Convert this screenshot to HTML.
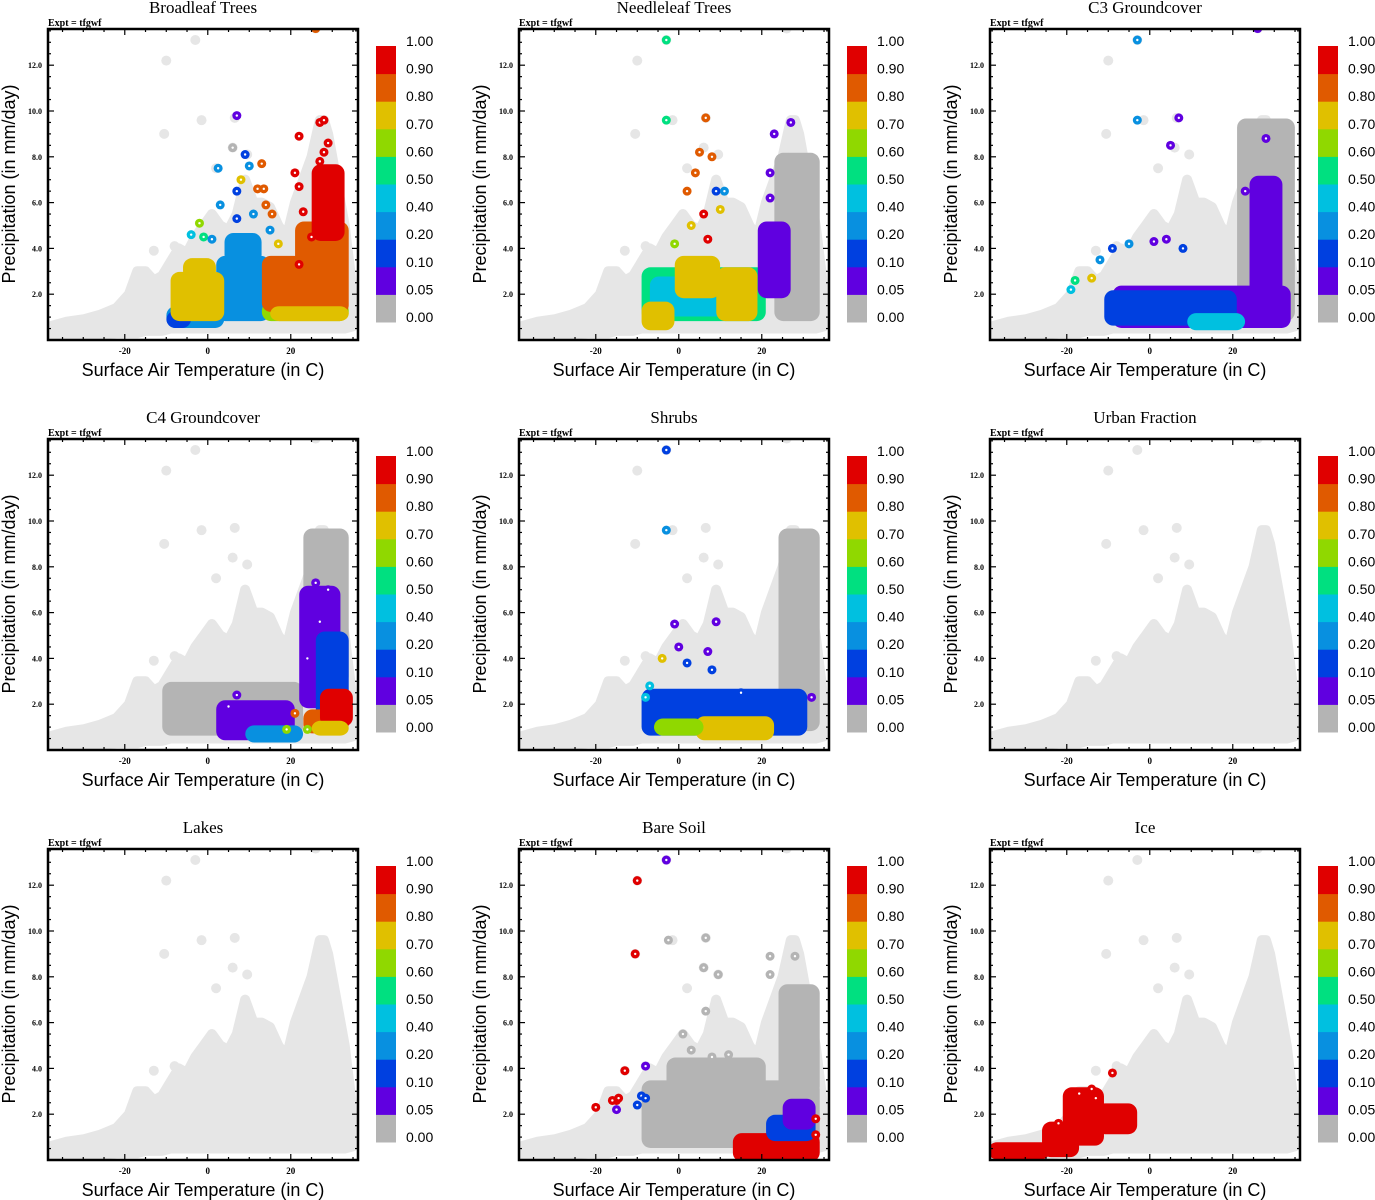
<!DOCTYPE html>
<html><head><meta charset="utf-8"><style>
body{margin:0;background:#fff;}
svg{display:block;}
</style></head><body>
<svg id="chart" width="1375" height="1200" viewBox="0 0 1375 1200" xmlns="http://www.w3.org/2000/svg"></svg>
<script>
// Shared background cloud (all grid cells)
const bgT  = [-38,-34,-30,-26,-22,-19,-17,-15,-13,-11,-9,-7,-5,-3,-1,1,3,5,7,9,11,13,15,17,19,21,23,25,27,28,29,31,33,35];
const bgHi = [0.6,0.8,0.9,1.1,1.4,2.0,3.0,3.0,2.6,2.8,3.4,4.0,3.8,4.5,5.0,5.5,5.0,4.8,5.5,7.0,6.0,6.0,5.8,5.0,4.5,6.0,7.0,8.0,9.6,9.6,9.0,7.0,5.0,2.0];
const bgLo = [0.2,0.2,0.2,0.2,0.3,0.3,0.3,0.4,0.4,0.4,0.5,0.5,0.5,0.5,0.5,0.5,0.5,0.5,0.5,0.5,0.5,0.5,0.5,0.5,0.5,0.5,0.5,0.5,0.5,0.5,0.5,0.5,0.5,0.6];
const bgOut = [[-3,13.1],[-10,12.2],[-1.5,9.6],[-10.5,9.0],[6.5,9.7],[6,8.4],[9.5,8.1],[2,7.5],[26,13.6],[-13,3.9],[-8,4.1]];

const levelLabels = ["0.00","0.05","0.10","0.20","0.40","0.50","0.60","0.70","0.80","0.90","1.00"];
const levelColors = ["#b4b4b4","#6000e0","#0040e0","#0890e0","#00c0e0","#00e080","#90d800","#e0c000","#e05a00","#e00000"];
const xTicks = [-20,0,20];
const yTicks = [2,4,6,8,10,12];
const titles = ["Broadleaf Trees","Needleleaf Trees","C3 Groundcover","C4 Groundcover","Shrubs","Urban Fraction","Lakes","Bare Soil","Ice"];

// blobs: [tMin,tMax,pMin,pMax,level]; points: [t,p,level]
const blobs0 = [[-9,3,0.7,1.3,3],[-9,-5,0.7,1.1,2],[3,14,1.0,3.5,3],[5,12,3.5,4.5,3],[-8,3,1.0,2.8,7],[-5,1,2.8,3.4,7],[14,33,1.0,1.5,6],[14,22,1.4,3.5,8],[22,33,1.3,5,8],[26,32,4.5,7.5,9],[16,33,1.0,1.3,7]];
const pts0 = [[22,8.9,9],[27,9.5,9],[28,9.6,9],[29,8.6,9],[28,8.2,9],[27,7.8,9],[21,7.3,9],[22,6.7,9],[23,5.6,9],[25,4.5,9],[22,3.3,9],[26,13.6,8],[7,9.8,1],[9,8.1,2],[2.5,7.5,3],[10,7.6,3],[7,6.5,2],[8,7,7],[13,7.7,8],[12,6.6,8],[13.5,6.6,8],[3,5.9,3],[7,5.3,2],[14,5.9,8],[15.5,5.5,8],[-2,5.1,6],[-4,4.6,4],[11,5.5,3],[6,8.4,0],[-1,4.5,5],[1,4.4,3],[15,4.8,3],[17,4.2,7]];
const blobs1 = [[24,33,1,8,0],[-8,20,1,3,5],[-6,18,1.2,2.6,4],[-8,-2,0.6,1.5,7],[10,18,1,3,7],[0,9,2,3.5,7],[20,26,2,5,1]];
const pts1 = [[-3,13.1,5],[-3,9.6,5],[6.5,9.7,8],[5,8.2,8],[8,8,8],[23,9,1],[27,9.5,1],[9,6.5,2],[11,6.5,3],[2,6.5,8],[4,7.3,8],[22,7.3,1],[22,6.2,1],[3,5,7],[6,5.5,9],[-1,4.2,6],[7,4.4,9],[10,5.7,7]];
const blobs2 = [[22,34,1,9.5,0],[-8,33,0.7,2.2,1],[25,31,2,7,1],[-10,20,0.8,2.0,2],[10,22,0.6,1.0,4]];
const pts2 = [[-3,13.1,3],[-3,9.6,3],[7,9.7,1],[5,8.5,1],[26,13.6,1],[28,8.8,1],[-18,2.6,5],[-19,2.2,4],[-14,2.7,7],[-12,3.5,3],[-9,4.0,2],[-5,4.2,3],[1,4.3,1],[4,4.4,1],[23,6.5,1],[8,4.0,2]];
const blobs3 = [[-10,22,0.8,2.8,0],[24,33,3,9.5,0],[3,20,0.6,2.0,1],[23,31,2,7,1],[27,33,1,5,2],[10,22,0.5,0.9,3],[24,33,0.9,1.6,8],[28,34,1.2,2.5,9],[26,33,0.8,1.1,7]];
const pts3 = [[26,7.3,1],[29,7,1],[27,5.6,1],[24,4,1],[7,2.4,1],[5,1.9,1],[21,1.6,8],[19,0.9,6],[24,0.9,6]];
const blobs4 = [[25,33,1,9.5,0],[-8,30,0.8,2.5,2],[5,22,0.6,1.3,7],[-5,5,0.8,1.2,6]];
const pts4 = [[-3,13.1,2],[-3,9.6,3],[-1,5.5,1],[0,4.5,1],[-4,4,7],[-7,2.8,4],[-8,2.3,4],[2,3.8,2],[7,4.3,1],[9,5.6,1],[8,3.5,2],[32,2.3,1],[15,2.5,2]];
const blobs5 = [];
const pts5 = [];
const blobs6 = [];
const pts6 = [];
const blobs7 = [[-8,33,0.7,3.3,0],[25,33,3,7.5,0],[-2,20,3,4.3,0],[14,33,0.1,1.0,9],[22,32,1.0,1.8,2],[26,32,1.5,2.5,1]];
const pts7 = [[-10,12.2,9],[-10.5,9,9],[-13,3.9,9],[-20,2.3,9],[-15,2.6,9],[-16,2.6,9],[-14.5,2.7,9],[-3,13.1,1],[-8,4.1,1],[-15,2.2,1],[-9,2.8,2],[-10,2.4,2],[-8,2.7,2],[6.5,9.7,0],[-2.5,9.6,0],[22,8.9,0],[28,8.9,0],[6,8.4,0],[9.5,8.1,0],[22,8.1,0],[6.5,6.5,0],[1,5.5,0],[3,4.8,0],[8,4.5,0],[12,4.6,0],[33,1.8,9],[33,1.1,9]];
const blobs8 = [[-38,-25,0.2,0.6,9],[-25,-18,0.3,1.5,9],[-20,-12,0.8,3.0,9],[-12,-4,1.3,2.3,9]];
const pts8 = [[-9,3.8,9],[-14,3.1,9],[-17,2.9,9],[-13,2.7,9],[-22,1.6,9]];
const panelBlobs = [blobs0,blobs1,blobs2,blobs3,blobs4,blobs5,blobs6,blobs7,blobs8];
const panelPts = [pts0,pts1,pts2,pts3,pts4,pts5,pts6,pts7,pts8];

const NS="http://www.w3.org/2000/svg";
const svg=document.getElementById('chart');
function mk(tag,attrs,parent){const e=document.createElementNS(NS,tag);for(const k in attrs)e.setAttribute(k,attrs[k]);(parent||svg).appendChild(e);return e;}
const W=310,H=311,TMIN=-38.5,TMAX=36.2,PMAX=311/22.9;

for(let i=0;i<9;i++){
  const c=i%3,r=Math.floor(i/3);
  const ox=48+471*c, oy=29+410*r;
  const X=t=>ox+(t-TMIN)*W/(TMAX-TMIN);
  const Y=p=>oy+H-p*H/PMAX;
  const g=mk('g',{});
  
  
  const clipId='clip'+i;
  const cp=mk('clipPath',{id:clipId},g);mk('rect',{x:ox,y:oy,width:W,height:H},cp);
  const plot=mk('g',{'clip-path':'url(#'+clipId+')'},g);
  let d='M'+X(bgT[0])+','+Y(bgLo[0]);
  for(let k=1;k<bgT.length;k++)d+='L'+X(bgT[k])+','+Y(bgLo[k]);
  for(let k=bgT.length-1;k>=0;k--)d+='L'+X(bgT[k])+','+Y(bgHi[k]);
  d+='Z';
  const cloud=mk('path',{d:d,fill:'#e6e6e6',stroke:'#e6e6e6','stroke-width':10,'stroke-linejoin':'round'},plot);
  
  
  bgOut.forEach(o=>{const e=mk('circle',{cx:X(o[0]),cy:Y(o[1]),r:5,fill:'#e6e6e6'},plot);
    
    });
  panelBlobs[i].forEach(b=>{
    const x0=X(b[0]),x1=X(b[1]),y0=Y(b[3]),y1=Y(b[2]);
    const e=mk('rect',{x:x0-4,y:y0-4,width:x1-x0+8,height:y1-y0+8,rx:9,fill:levelColors[b[4]]},plot);
    
    
  });
  panelPts[i].forEach(p=>{
    const e=mk('circle',{cx:X(p[0]),cy:Y(p[1]),r:4.5,fill:levelColors[p[2]]},plot);
    
    
    mk('circle',{cx:X(p[0]),cy:Y(p[1]),r:1.2,fill:'#fff'},plot);
  });
  const fr=mk('rect',{x:ox,y:oy,width:W,height:H,fill:'none',stroke:'#000','stroke-width':2.5},g);
  
  
  for(let t=-35;t<=35;t+=5){const major=xTicks.includes(t);const len=major?6:3;
    mk('line',{x1:X(t),x2:X(t),y1:oy+H,y2:oy+H-len,stroke:'#000','stroke-width':1.2},g);
    mk('line',{x1:X(t),x2:X(t),y1:oy,y2:oy+len,stroke:'#000','stroke-width':1.2},g);}
  xTicks.forEach(t=>{const e=mk('text',{x:X(t),y:oy+H+14,'text-anchor':'middle','font-family':'Liberation Serif, serif','font-size':9,'font-weight':'bold'},g);e.textContent=t;
    
    });
  for(let p=0.5;p<13.6;p+=0.5){const major=Number.isInteger(p/2);const len=major?6:3;
    mk('line',{x1:ox,x2:ox+len,y1:Y(p),y2:Y(p),stroke:'#000','stroke-width':1.2},g);
    mk('line',{x1:ox+W,x2:ox+W-len,y1:Y(p),y2:Y(p),stroke:'#000','stroke-width':1.2},g);}
  yTicks.forEach(p=>{const e=mk('text',{x:ox-6,y:Y(p)+3,'text-anchor':'end','font-family':'Liberation Serif, serif','font-size':8,'font-weight':'bold'},g);e.textContent=p.toFixed(1);
    
    });
  const ti=mk('text',{x:ox+155,y:oy-16,'text-anchor':'middle','font-family':'Liberation Serif, serif','font-size':17},g);ti.textContent=titles[i];
  
  
  const ex=mk('text',{x:ox,y:oy-3,'font-family':'Liberation Serif, serif','font-size':10,'font-weight':'bold'},g);ex.textContent='Expt = tfgwf';
  
  
  const xl=mk('text',{x:ox+155,y:oy+347,'text-anchor':'middle','font-family':'Liberation Sans, sans-serif','font-size':18},g);xl.textContent='Surface Air Temperature (in C)';
  
  
  const yl=mk('text',{x:0,y:0,'text-anchor':'middle','font-family':'Liberation Sans, sans-serif','font-size':18,transform:'translate('+(ox-33)+','+(oy+155)+') rotate(-90)'},g);yl.textContent='Precipitation (in mm/day)';
  
  
  const cb=mk('g',{},g);
  
  
  const bh=27.6;
  for(let k=0;k<10;k++){mk('rect',{x:ox+328,y:oy+17+(9-k)*bh,width:20,height:bh+0.5,fill:levelColors[k]},cb);}
  for(let k=0;k<11;k++){const e=mk('text',{x:ox+358,y:oy+17+(10-k)*bh,'font-family':'Liberation Sans, sans-serif','font-size':14},cb);
    e.textContent=levelLabels[k];
    
    }
}
</script>
</body></html>
